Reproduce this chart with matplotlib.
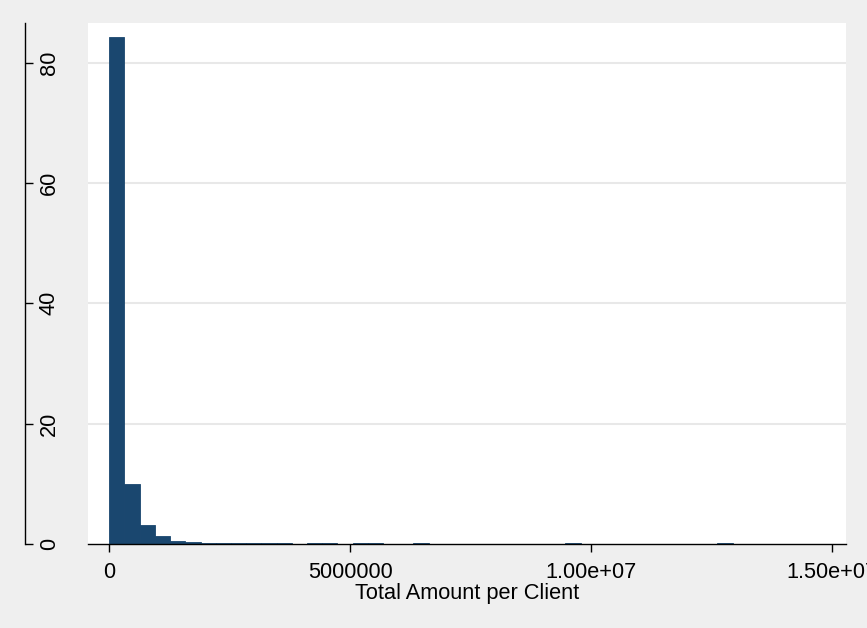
import matplotlib
matplotlib.use("Agg")
import matplotlib.pyplot as plt
import numpy as np

# Histogram of total amount per client (percent of clients in each bin)
bin_start = 0
bin_width = 315500
percents = [84.3, 9.9, 3.2, 1.25, 0.53, 0.25, 0.15, 0.15, 0.15, 0.15, 0.15, 0.15,
            0, 0.15, 0.15, 0, 0.15, 0.15, 0, 0, 0.15,
            0, 0, 0, 0, 0, 0, 0, 0, 0, 0.15,
            0, 0, 0, 0, 0, 0, 0, 0, 0, 0.15]
x_ticks = [0, 5000000, 10000000, 15000000]
x_tick_labels = ["0", "5000000", "1.00e+07", "1.50e+07"]
y_ticks = [0, 20, 40, 60, 80]
x_title = "Total Amount per Client"

bar_color = "#1a476f"
bg_color = "#efefef"
font = ["Liberation Sans", "DejaVu Sans"]
fsize = 15.7

plt.rcParams["font.family"] = font

fig = plt.figure(figsize=(8.67, 6.28), dpi=100, facecolor=bg_color)
ax = fig.add_axes([88 / 867, 1 - 544 / 628, (846 - 88) / 867, (544 - 23) / 628])
ax.set_facecolor("white")

left_edges = bin_start + bin_width * np.arange(len(percents))
ax.bar(left_edges, percents, width=bin_width, align="edge",
       color=bar_color, edgecolor=bar_color, linewidth=0.6, zorder=2)

ax.set_xlim(-442000, 15290000)
ax.set_ylim(0, 86.6)

# horizontal grid only
ax.set_yticks(y_ticks)
for y in y_ticks[1:]:
    ax.axhline(y, color="#e8e8e8", linewidth=1.5, zorder=1)

ax.spines["top"].set_visible(False)
ax.spines["right"].set_visible(False)
ax.spines["bottom"].set_linewidth(1.0)
ax.spines["bottom"].set_zorder(3)
ax.spines["left"].set_linewidth(1.0)
# y axis sits off to the left of the plot region
ax.spines["left"].set_position(("outward", 63 * 0.72))

ax.set_xticks(x_ticks)
ax.set_xticklabels(x_tick_labels, fontsize=fsize)
ax.tick_params(axis="x", direction="out", length=8 * 0.72, width=1.0,
               pad=7.5, colors="black")
ax.tick_params(axis="y", direction="in", length=8 * 0.72, width=1.0,
               pad=-10, labelsize=fsize, labelrotation=90)
for lbl in ax.get_yticklabels():
    lbl.set_horizontalalignment("left")
    lbl.set_verticalalignment("center")

ax.set_xlabel(x_title, fontsize=fsize)
ax.xaxis.set_label_coords(0.5, -0.074)
ax.xaxis.label.set_verticalalignment("top")

fig.savefig("out.png", dpi=100, facecolor=bg_color)
